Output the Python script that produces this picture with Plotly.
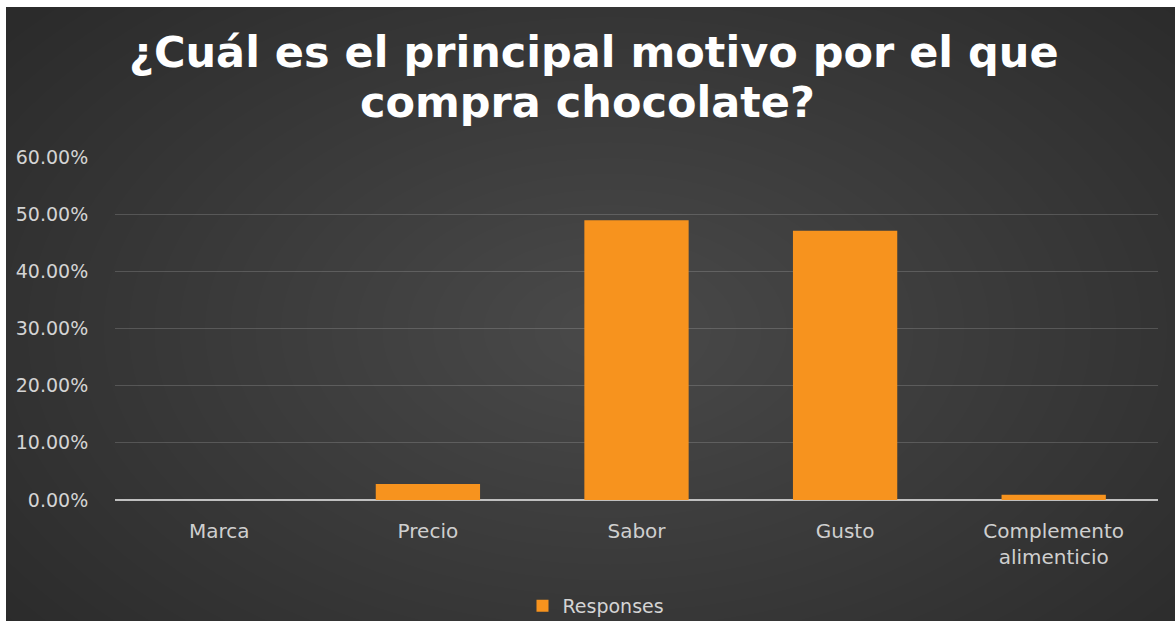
import plotly.graph_objects as go

# Survey results: main reason for buying chocolate
categories = ["Marca", "Precio", "Sabor", "Gusto", "Complemento<br>alimenticio"]
responses = [0.0, 0.028, 0.489, 0.471, 0.009]
y_ticks = [0.0, 0.1, 0.2, 0.3, 0.4, 0.5, 0.6]
y_tick_labels = ["0.00%", "10.00%", "20.00%", "30.00%", "40.00%", "50.00%", "60.00%"]
title_lines = ["¿Cuál es el principal motivo por el que", "compra chocolate?"]

W, H = 1175, 621
L, R, T, B = 115, 17, 156, 121
PW, PH = W - L - R, H - T - B


def px_x(px):
    return (px - L) / PW


def px_y(py):
    return (H - B - py) / PH


fig = go.Figure()
fig.add_trace(go.Bar(
    x=categories,
    y=responses,
    name="Responses",
    marker=dict(color="#f7931e", line=dict(width=0)),
    showlegend=True,
))

# soft radial glow on the dark background
shapes = []
n = 30
cx, cy = 610, 330
for i in range(n):
    f = 1 - i / n
    rx, ry = 760 * f, 470 * f
    shapes.append(dict(
        type="circle", xref="paper", yref="paper", layer="below",
        x0=px_x(cx - rx), x1=px_x(cx + rx),
        y0=px_y(cy + ry), y1=px_y(cy - ry),
        fillcolor="rgba(255,255,255,0.0075)", line=dict(width=0),
    ))
# white frame strips on the top and left edges
shapes.append(dict(type="rect", xref="paper", yref="paper", layer="below",
                   x0=px_x(-5), x1=px_x(6), y0=px_y(H + 5), y1=px_y(-5),
                   fillcolor="white", line=dict(width=0)))
shapes.append(dict(type="rect", xref="paper", yref="paper", layer="below",
                   x0=px_x(-5), x1=px_x(W + 5), y0=px_y(7), y1=px_y(-5),
                   fillcolor="white", line=dict(width=0)))

title_font = dict(family="DejaVu Sans", size=43, color="white", weight="bold")
annotations = [
    dict(text=title_lines[0], showarrow=False, xref="paper", yref="paper",
         x=px_x(594), xanchor="center", y=px_y(52), yanchor="middle",
         font=title_font),
    dict(text=title_lines[1], showarrow=False, xref="paper", yref="paper",
         x=px_x(587), xanchor="center", y=px_y(102), yanchor="middle",
         font=title_font),
]

fig.update_layout(
    width=W, height=H,
    margin=dict(l=L, r=R, t=T, b=B, autoexpand=False),
    paper_bgcolor="#2b2b2b",
    plot_bgcolor="rgba(0,0,0,0)",
    shapes=shapes,
    annotations=annotations,
    bargap=0.5,
    font=dict(family="DejaVu Sans", color="#d4d4d4"),
    xaxis=dict(
        showgrid=False, showline=False, zeroline=False, automargin=False,
        tickfont=dict(size=20, color="#cfcfcf"),
        ticks="outside", ticklen=13, tickcolor="rgba(0,0,0,0)",
    ),
    yaxis=dict(
        range=[0, 0.6015], automargin=False,
        tickvals=y_ticks, ticktext=y_tick_labels,
        tickfont=dict(size=19, color="#d4d4d4"),
        gridcolor="rgba(255,255,255,0.16)", gridwidth=1,
        zeroline=True, zerolinecolor="#c0c0c0", zerolinewidth=1.5,
        ticks="outside", ticklen=22, tickcolor="rgba(0,0,0,0)",
        showline=False,
    ),
    legend=dict(
        orientation="h", x=px_x(596), xanchor="center",
        y=px_y(606), yanchor="middle",
        font=dict(size=19, color="#d4d4d4"),
        bgcolor="rgba(0,0,0,0)",
        itemwidth=30,
    ),
)

fig.write_html("out.html")
